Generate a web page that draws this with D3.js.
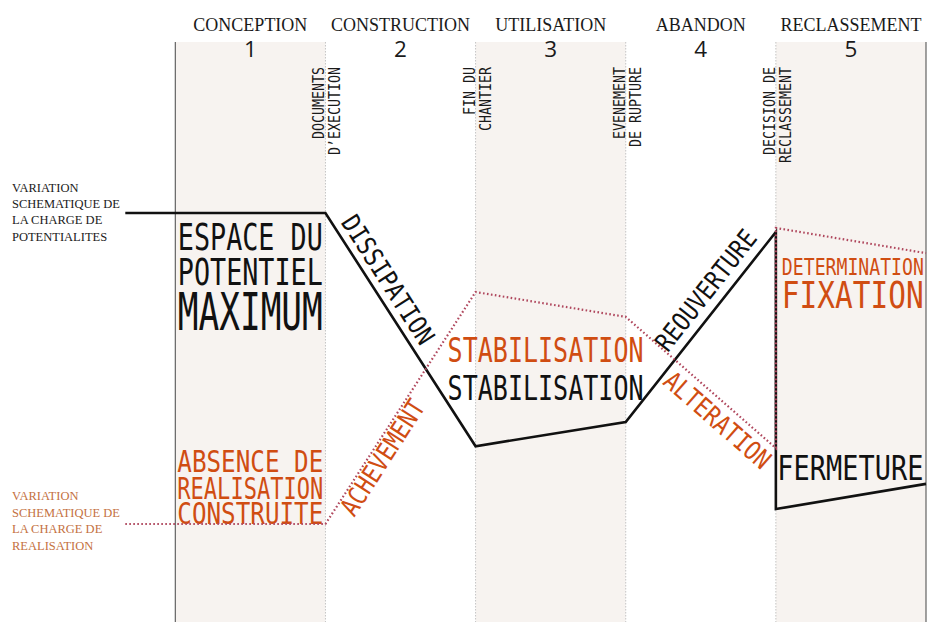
<!DOCTYPE html>
<html><head><meta charset="utf-8">
<script src="https://cdn.jsdelivr.net/npm/d3@7"></script>
<style>body{margin:0;background:#fff}svg{display:block}</style>
</head><body>
<svg id="c" width="928" height="622"></svg>
<script>
// ---------- data ----------
const phases = ["CONCEPTION","CONSTRUCTION","UTILISATION","ABANDON","RECLASSEMENT"];
const phaseNumbers = ["1","2","3","4","5"];
const milestones = [["DOCUMENTS","D\u2019EXECUTION"],["FIN DU","CHANTIER"],["EVENEMENT","DE RUPTURE"],["DECISION DE","RECLASSEMENT"]];
const milestoneTimes = [1,2,3,4];
const shadedPhases = [0,2,4];
// charge de potentialités (black line)
const potentialT = [-0.333, 1, 2, 3, 4, 4, 5];
const potentialV = [10, 10, 2.5, 3.28, 9.39, 0.48, 1.29];
// charge de réalisation (dotted line)
const realisationT = [-0.333, 1, 2, 3, 4, 4, 5];
const realisationV = [0, 0, 7.46, 6.66, 2.44, 9.52, 8.71];
const potentialLegend = ["VARIATION","SCHEMATIQUE DE","LA CHARGE DE","POTENTIALITES"];
const realisationLegend = ["VARIATION","SCHEMATIQUE DE","LA CHARGE DE","REALISATION"];
const potentialBlock = ["ESPACE DU","POTENTIEL","MAXIMUM"];
const realisationBlock = ["ABSENCE DE","REALISATION","CONSTRUITE"];
const segmentLabels = [
  {text:"DISSIPATION", series:"p", seg:1},
  {text:"ACHEVEMENT", series:"r", seg:1},
  {text:"REOUVERTURE", series:"p", seg:3},
  {text:"ALTERATION", series:"r", seg:3}
];

// ---------- layout ----------
const svg = d3.select("#c");
const x = d3.scaleLinear().domain([0,5]).range([175.3,926]);
const y = d3.scaleLinear().domain([0,10]).range([524,213]);
const bandTop = 42, bandBottom = 622;
const BLACK = "#111", ORANGE = "#d04d12", LEG_ORANGE = "#c4713f", DOT = "#b0485e";
const MONO = "'DejaVu Sans Mono', monospace";
const SERIF = "'Liberation Serif','Times New Roman',serif";

// bands
svg.append("g").selectAll("rect").data(shadedPhases).join("rect")
  .attr("x", d => x(d)).attr("y", bandTop)
  .attr("width", d => x(d+1)-x(d)).attr("height", bandBottom-bandTop)
  .attr("fill", "#f7f3f0");
// boundaries
svg.append("g").selectAll("line").data(milestoneTimes).join("line")
  .attr("x1", d => x(d)).attr("x2", d => x(d))
  .attr("y1", bandTop).attr("y2", bandBottom)
  .attr("stroke", "#c4c4c4").attr("stroke-width", 1).attr("stroke-dasharray", "1.5,1.5");
svg.append("g").selectAll("line").data([0,5]).join("line")
  .attr("x1", d => x(d)).attr("x2", d => x(d))
  .attr("y1", bandTop).attr("y2", bandBottom)
  .attr("stroke", "#555").attr("stroke-width", 1.1);

// phase titles & numbers
const titles = svg.append("g").selectAll("text").data(phases).join("text")
  .attr("x", (d,i) => (x(i)+x(i+1))/2).attr("y", 31)
  .attr("text-anchor","middle").attr("font-family", SERIF).attr("font-size", 19.5)
  .attr("fill","#1a1a1a").text(d => d);
titles.each(function(){
  const w = this.getComputedTextLength();
  d3.select(this).attr("textLength", w*18/19.5).attr("lengthAdjust","spacingAndGlyphs");
});
svg.append("g").selectAll("text").data(phaseNumbers).join("text")
  .attr("x", (d,i) => (x(i)+x(i+1))/2).attr("y", 57)
  .attr("text-anchor","middle").attr("font-family", "'Open Sans',sans-serif").attr("font-size", 22.5)
  .attr("fill","#1a1a1a").text(d => d);

// milestones (vertical)
milestones.forEach((lines, i) => {
  const bx = x(milestoneTimes[i]);
  lines.forEach((t, j) => {
    svg.append("text")
      .attr("transform", `translate(${bx + (j===0 ? -1 : 15)},67) rotate(-90)`)
      .attr("text-anchor","end").attr("font-family", MONO).attr("font-size", 16)
      .attr("textLength", t.length*8).attr("lengthAdjust","spacingAndGlyphs")
      .attr("fill","#1a1a1a").text(t);
  });
});

// legends
svg.append("g").selectAll("text").data(potentialLegend).join("text")
  .attr("x", 12).attr("y", (d,i) => 191.5 + i*16.4)
  .attr("font-family", SERIF).attr("font-size", 12.5).attr("fill","#1a1a1a").text(d => d);
svg.append("g").selectAll("text").data(realisationLegend).join("text")
  .attr("x", 12).attr("y", (d,i) => 500 + i*16.6)
  .attr("font-family", SERIF).attr("font-size", 12.5).attr("fill",LEG_ORANGE).text(d => d);

// block labels
function block(lines, opts) {
  lines.forEach((t,i) => {
    svg.append("text").attr("x", opts.x).attr("y", opts.y[i])
      .attr("font-family", MONO).attr("font-size", opts.size[i])
      .attr("textLength", opts.w).attr("lengthAdjust","spacingAndGlyphs")
      .attr("fill", opts.color).text(t);
  });
}
block(potentialBlock, {x: x(0)+2.5, y:[250,285,330], size:[37,38,51], w:145, color:BLACK});
block(realisationBlock, {x: x(0)+2, y:[472,499,524], size:[30,31,30], w:146, color:ORANGE});
block(["STABILISATION"], {x: x(2)-28, y:[362], size:[33], w:196, color:ORANGE});
block(["STABILISATION"], {x: x(2)-28, y:[400], size:[34], w:196, color:BLACK});
block(["DETERMINATION"], {x: x(4)+6, y:[275], size:[23], w:142, color:ORANGE});
block(["FIXATION"], {x: x(4)+6, y:[308], size:[38], w:142, color:ORANGE});
block(["FERMETURE"], {x: x(4)+1.5, y:[480], size:[34], w:146, color:BLACK});

// lines
const pts = (T,V) => T.map((t,i) => [x(t), y(V[i])]);
const P = pts(potentialT, potentialV), R = pts(realisationT, realisationV);
const line = d3.line();
svg.append("path").attr("d", line(P)).attr("fill","none")
  .attr("stroke", BLACK).attr("stroke-width", 2.6).attr("stroke-linejoin","miter");
svg.append("path").attr("d", line(R)).attr("fill","none")
  .attr("stroke", DOT).attr("stroke-width", 2.2).attr("stroke-dasharray","1.6,2.4");

// segment labels
const place = {
  DISSIPATION: {along:90, off:16.8, len:148, color:BLACK},
  ACHEVEMENT:  {along:87, off:-11.5, len:132, color:ORANGE},
  REOUVERTURE: {along:153, off:19, len:146, color:BLACK},
  ALTERATION:  {along:137, off:-17, len:132, color:ORANGE}
};
segmentLabels.forEach(s => {
  const arr = s.series === "p" ? P : R;
  const a = arr[s.seg], b = arr[s.seg+1];
  const dx = b[0]-a[0], dy = b[1]-a[1], L = Math.hypot(dx,dy);
  const ux = dx/L, uy = dy/L;
  const th = Math.atan2(dy,dx);
  const nx = Math.sin(th), ny = -Math.cos(th);
  const o = place[s.text];
  const cx = a[0] + ux*o.along + nx*o.off, cy = a[1] + uy*o.along + ny*o.off;
  svg.append("text")
    .attr("transform", `translate(${cx},${cy}) rotate(${th*180/Math.PI})`)
    .attr("text-anchor","middle").attr("dy","0.36em")
    .attr("font-family", MONO).attr("font-size", 26)
    .attr("textLength", o.len).attr("lengthAdjust","spacingAndGlyphs")
    .attr("fill", o.color).text(s.text);
});
</script>
</body></html>
